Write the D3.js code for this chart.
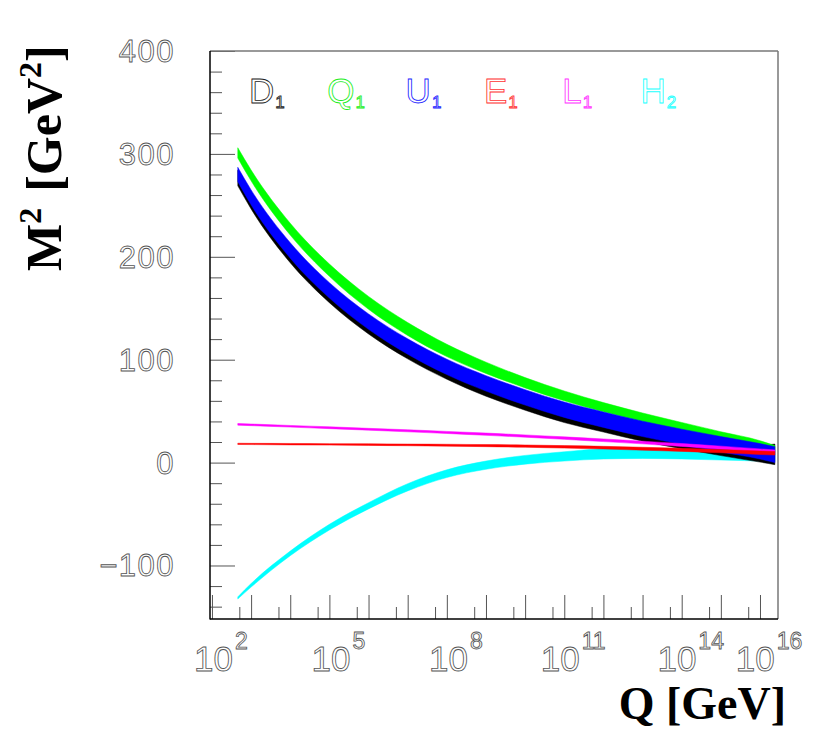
<!DOCTYPE html>
<html><head><meta charset="utf-8">
<script src="https://cdn.jsdelivr.net/npm/d3@7/dist/d3.min.js"></script>
<style>body{margin:0;background:#fff}svg{display:block}</style>
</head><body>
<svg id="c" width="830" height="733"></svg>
<script>
// ---- data (log10 of Q in GeV, and M^2 in GeV^2) ----
const logQ  = [2.66, 3, 4, 5, 6, 7, 8, 9, 10, 11, 12, 13, 14, 15, 16, 16.38];
const D1_hi = [284, 262, 210.7, 171.9, 141.5, 117.3, 97.5, 81.5, 67.9, 55.9, 46.2, 37.3, 29.5, 22.3, 17, 18];
const D1_lo = [269, 246.5, 194.2, 155.4, 125, 100.8, 81, 64.5, 50.9, 38.9, 29.7, 20.8, 13.5, 6.8, 0.5, -2];
const Q1_hi = [306, 284.3, 232.6, 193, 161.5, 136.1, 115, 97.6, 82.6, 69.6, 58.3, 48.2, 39, 30, 21.3, 16.5];
const Q1_lo = [296, 273.8, 221.1, 181, 149, 123.6, 103, 86.6, 72.6, 60.1, 49.3, 39.7, 31, 22.5, 14.3, 10];
const U1_hi = [287, 265, 213.7, 174.9, 144.5, 120.3, 100.5, 84.5, 70.9, 58.9, 49.2, 40.3, 32.5, 25.3, 18.5, 15.5];
const U1_lo = [273, 250.5, 198.7, 159.9, 129.5, 105.3, 85.5, 69.5, 55.9, 43.9, 34.2, 25.3, 17.5, 10.3, 3.5, 0];
const E1_hi = [18.8, 18.7, 18.6, 18.4, 18.3, 18.0, 17.8, 17.5, 17.1, 16.5, 15.8, 14.9, 13.9, 12.7, 11.3, 10.7];
const E1_lo = [17.6, 17.5, 17.2, 17.0, 16.7, 16.4, 16.0, 15.5, 14.9, 14.1, 13.2, 12.1, 10.9, 9.5, 7.9, 7.3];
const L1_hi = [38.0, 37.5, 36.1, 34.8, 33.3, 31.9, 30.3, 28.7, 26.9, 25.0, 23.0, 20.8, 18.5, 16.0, 13.3, 12.3];
const L1_lo = [36.4, 35.9, 34.5, 33.0, 31.5, 29.9, 28.3, 26.5, 24.7, 22.6, 20.4, 18.2, 15.7, 13.0, 10.1, 9.1];
const H2_hi = [-130.5, -117.5, -86, -60, -39, -20.5, -7, 1.5, 7, 10.5, 13.5, 14, 13, 11.5, 9.5, 9];
const H2_lo = [-132.5, -121, -90.5, -65.5, -45, -27.5, -14.5, -6.5, -1.5, 1.5, 3.5, 4, 3.5, 2.5, 1.5, 1];

const legendNames = ["D", "Q", "U", "E", "L", "H"];
const legendSubs  = ["1", "1", "1", "1", "1", "2"];
const legendColors = ["#222222", "#22ee22", "#2222ff", "#ff3333", "#ff33ff", "#22ffff"];

const xMajorExp = [2,3,4,5,6,7,8,9,10,11,12,13,14,15,16];
const xMinorExp = [2,3,4,5,6,7,8,9,10,11,12,13,14,15];
const xLabelExp = [2, 5, 8, 11, 14, 16];
const yLabels = [-100, 0, 100, 200, 300, 400];

// ---- scales ----
const svg = d3.select("#c");
const L = 210, R = 778, T = 51, B = 619;
const x = d3.scaleLog().domain([Math.pow(10,1.95), Math.pow(10,16.46)]).range([L, R]);
const y = d3.scaleLinear().domain([-152, 400]).range([B, T]);

// ---- bands ----
function band(hi, lo, color) {
  const data = logQ.map((q, i) => ({q: Math.pow(10, q), hi: hi[i], lo: lo[i]}));
  const area = d3.area().x(d => x(d.q)).y0(d => y(d.lo)).y1(d => y(d.hi)).curve(d3.curveMonotoneX);
  svg.append("path").datum(data).attr("d", area).attr("fill", color)
     .attr("stroke", color).attr("stroke-width", 0.5);
}
band(H2_hi, H2_lo, "#00ffff");
band(D1_hi, D1_lo, "#000000");
band(Q1_hi, Q1_lo, "#00ff00");
band(U1_hi, U1_lo, "#0000ff");
band(L1_hi, L1_lo, "#ff00ff");
band(E1_hi, E1_lo, "#ff0000");

// ---- axes (ticks inside) ----
const tickCol = "#555";
function styleAxis(g) {
  g.select(".domain").remove();
  g.selectAll("line").attr("stroke", tickCol).attr("stroke-width", 1);
  g.selectAll("text").remove();
}
svg.append("g").attr("transform", `translate(0,${B})`)
  .call(d3.axisBottom(x).tickValues(xMajorExp.map(e => Math.pow(10, e))).tickSize(-24).tickFormat(""))
  .call(styleAxis);
svg.append("g").attr("transform", `translate(0,${B})`)
  .call(d3.axisBottom(x).tickValues(xMinorExp.map(e => 5 * Math.pow(10, e))).tickSize(-12).tickFormat(""))
  .call(styleAxis);
svg.append("g").attr("transform", `translate(${L},0)`)
  .call(d3.axisLeft(y).tickValues(d3.range(-100, 401, 100)).tickSize(-25).tickFormat(""))
  .call(styleAxis);
svg.append("g").attr("transform", `translate(${L},0)`)
  .call(d3.axisLeft(y).tickValues(d3.range(-140, 400, 20).filter(v => v % 100 !== 0)).tickSize(-12).tickFormat(""))
  .call(styleAxis);

// frame
svg.append("line").attr("x1", L).attr("x2", R).attr("y1", T).attr("y2", T).attr("stroke", "#777").attr("stroke-width", 1.5);
svg.append("line").attr("x1", R).attr("x2", R).attr("y1", T).attr("y2", B).attr("stroke", "#777").attr("stroke-width", 1.5);
svg.append("line").attr("x1", L).attr("x2", L).attr("y1", T).attr("y2", B + 0.5).attr("stroke", "#000").attr("stroke-width", 1.5);
svg.append("line").attr("x1", L).attr("x2", R).attr("y1", B).attr("y2", B).attr("stroke", "#000").attr("stroke-width", 1.5);

// ---- tick labels (hollow stroke look) ----
function hollow(t, col) {
  return t.attr("fill", "#fff").attr("stroke", col).attr("stroke-width", 0.85)
          .attr("font-family", "'Liberation Sans', Arial, sans-serif");
}
xLabelExp.forEach(e => {
  const t = svg.append("text").attr("x", x(Math.pow(10, e)) + 9).attr("y", 671)
    .attr("text-anchor", "middle").attr("font-size", 35);
  hollow(t, "#555");
  t.append("tspan").text("10");
  t.append("tspan").attr("dy", -22).attr("dx", 2).attr("font-size", 23).text(e);
});
yLabels.forEach(v => {
  const t = svg.append("text").attr("x", 175).attr("y", y(v) + 11)
    .attr("text-anchor", "end").attr("font-size", 31).attr("letter-spacing", 1.5)
    .text(v < 0 ? "\u2212" + Math.abs(v) : String(v));
  hollow(t, "#555");
});

// ---- legend ----
legendNames.forEach((n, i) => {
  const t = svg.append("text").attr("x", 249 + i * 78.3).attr("y", 103).attr("font-size", 35);
  hollow(t, legendColors[i]);
  t.append("tspan").text(n);
  t.append("tspan").attr("dy", 5).attr("dx", 1).attr("font-size", 17).text(legendSubs[i]);
});

// ---- axis titles ----
svg.append("text").attr("x", 786).attr("y", 719).attr("text-anchor", "end")
  .attr("font-family", "'Liberation Serif', 'Times New Roman', serif").attr("font-weight", "bold")
  .attr("font-size", 46).text("Q [GeV]");
const yt = svg.append("text").attr("transform", "translate(61,271) rotate(-90)")
  .attr("font-family", "'Liberation Serif', 'Times New Roman', serif").attr("font-weight", "bold")
  .attr("font-size", 50);
yt.append("tspan").text("M");
yt.append("tspan").attr("dy", -20).attr("font-size", 32).text("2");
yt.append("tspan").attr("dy", 20).attr("dx", 16).text("[GeV");
yt.append("tspan").attr("dy", -20).attr("font-size", 32).text("2");
yt.append("tspan").attr("dy", 20).text("]");
</script>
</body></html>
